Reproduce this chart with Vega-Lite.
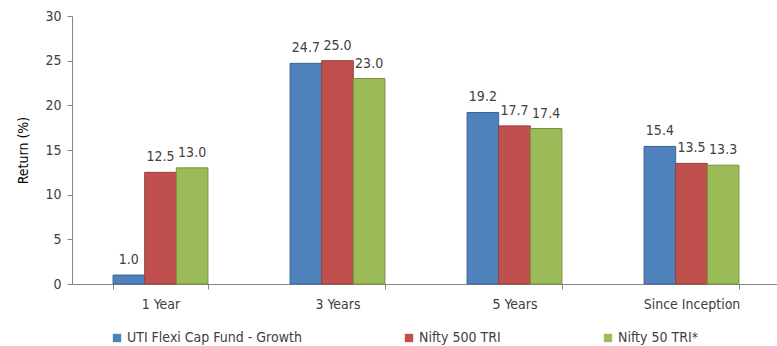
{
  "$schema": "https://vega.github.io/schema/vega-lite/v6.json",
  "width": 708,
  "height": 268,
  "autosize": {"type": "none"},
  "padding": {"left": 72, "top": 16, "right": 0, "bottom": 62},
  "background": "white",
  "config": {
    "view": {"stroke": null},
    "font": "'DejaVu Sans Condensed', 'Roboto Condensed', Roboto, sans-serif",
    "axis": {"labelFont": "'DejaVu Sans Condensed', Roboto, sans-serif", "titleFont": "'DejaVu Sans Condensed', Roboto, sans-serif"},
    "legend": {"labelFont": "'DejaVu Sans Condensed', Roboto, sans-serif"}
  },
  "data": {
    "values": [
      {"period": "1 Year", "series": "UTI Flexi Cap Fund - Growth", "value": 1.0},
      {"period": "1 Year", "series": "Nifty 500 TRI", "value": 12.5},
      {"period": "1 Year", "series": "Nifty 50 TRI*", "value": 13.0},
      {"period": "3 Years", "series": "UTI Flexi Cap Fund - Growth", "value": 24.7},
      {"period": "3 Years", "series": "Nifty 500 TRI", "value": 25.0},
      {"period": "3 Years", "series": "Nifty 50 TRI*", "value": 23.0},
      {"period": "5 Years", "series": "UTI Flexi Cap Fund - Growth", "value": 19.2},
      {"period": "5 Years", "series": "Nifty 500 TRI", "value": 17.7},
      {"period": "5 Years", "series": "Nifty 50 TRI*", "value": 17.4},
      {"period": "Since Inception", "series": "UTI Flexi Cap Fund - Growth", "value": 15.4},
      {"period": "Since Inception", "series": "Nifty 500 TRI", "value": 13.5},
      {"period": "Since Inception", "series": "Nifty 50 TRI*", "value": 13.3}
    ]
  },
  "encoding": {
    "x": {
      "field": "period",
      "type": "nominal",
      "sort": null,
      "scale": {"paddingInner": 0.464, "paddingOuter": 0.232},
      "axis": {
        "title": null,
        "labelAngle": 0,
        "labelFontSize": 14,
        "labelColor": "#404040",
        "labelPadding": 8,
        "tickBand": "extent",
        "tickSize": 5,
        "tickColor": "#868686",
        "domainColor": "#868686"
      }
    },
    "xOffset": {
      "field": "series",
      "type": "nominal",
      "sort": null,
      "scale": {"paddingInner": 0, "paddingOuter": 0}
    },
    "y": {
      "field": "value",
      "type": "quantitative",
      "scale": {"domain": [0, 30]},
      "axis": {
        "title": "Return (%)",
        "titleFontSize": 14,
        "titleFontWeight": "normal",
        "titleColor": "#000000",
        "titlePadding": 14,
        "values": [0, 5, 10, 15, 20, 25, 30],
        "grid": false,
        "labelFontSize": 14,
        "labelColor": "#404040",
        "labelPadding": 6,
        "tickSize": 5,
        "tickColor": "#868686",
        "domainColor": "#868686"
      }
    }
  },
  "layer": [
    {
      "mark": {"type": "bar", "strokeWidth": 1},
      "encoding": {
        "color": {
          "field": "series",
          "type": "nominal",
          "sort": null,
          "scale": {"range": ["#4F81BD", "#C0504D", "#9BBB59"]},
          "legend": {
            "title": null,
            "orient": "none",
            "legendX": 38,
            "legendY": 315,
            "direction": "horizontal",
            "symbolType": "square",
            "symbolSize": 70,
            "symbolStrokeWidth": 0,
            "labelFontSize": 14,
            "labelColor": "#404040",
            "labelOffset": 3,
            "columnPadding": 100,
            "labelLimit": 300
          }
        },
        "stroke": {
          "field": "series",
          "type": "nominal",
          "sort": null,
          "scale": {"range": ["#3A6495", "#94403D", "#77903F"]},
          "legend": null
        }
      }
    },
    {
      "mark": {"type": "text", "baseline": "bottom", "dy": -8, "fontSize": 14, "color": "#404040"},
      "encoding": {
        "text": {"field": "value", "type": "quantitative", "format": ".1f"}
      }
    }
  ]
}
